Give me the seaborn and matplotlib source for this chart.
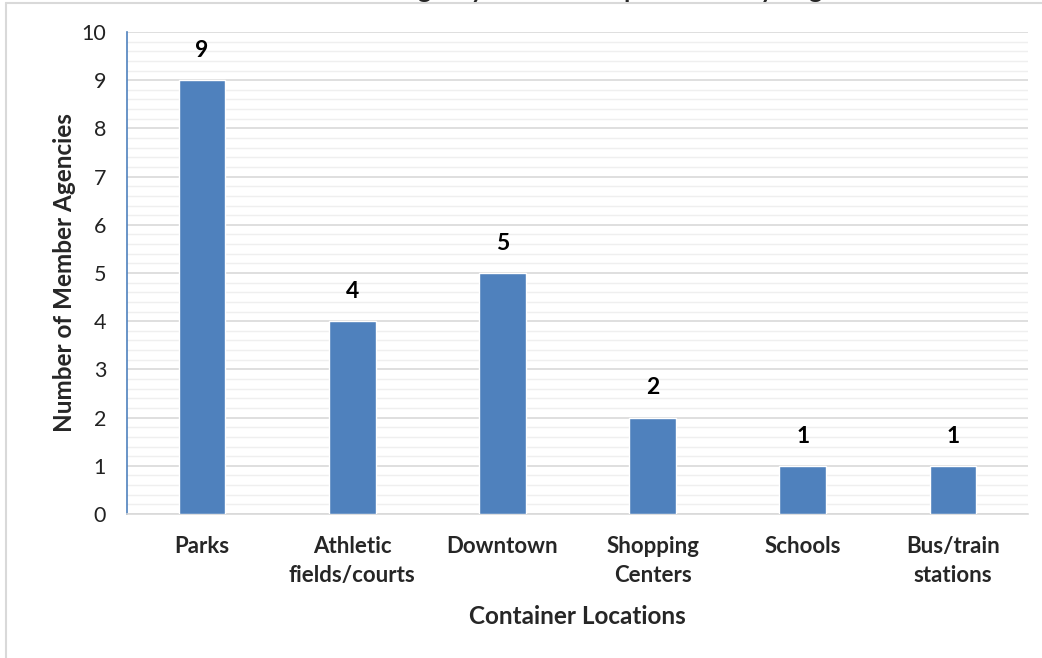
import matplotlib
matplotlib.use("Agg")
import matplotlib.pyplot as plt
import seaborn as sns
import pandas as pd
from matplotlib.lines import Line2D
from matplotlib.ticker import MultipleLocator

categories = ["Parks", "Athletic\nfields/courts", "Downtown", "Shopping\nCenters", "Schools", "Bus/train\nstations"]
values = [9, 4, 5, 2, 1, 1]
title = "Member Agency Containers: placement by Region"
xlabel = "Container Locations"
ylabel = "Number of Member Agencies"

sns.set_theme(style="white")
plt.rcParams["font.family"] = ["Lato", "DejaVu Sans"]

df = pd.DataFrame({"loc": categories, "n": values})

fig = plt.figure(figsize=(10.42, 6.58), dpi=100)
ax = fig.add_axes([127/1042, 1-514/658, (1028-127)/1042, (514-32)/658])

bar_color = "#4F81BD"
sns.barplot(data=df, x="loc", y="n", color=bar_color, saturation=1, width=0.31, ax=ax, zorder=3)

ax.set_ylim(0, 10)
ax.set_xlim(-0.5, len(categories) - 0.5)
ax.yaxis.set_major_locator(MultipleLocator(1))
ax.yaxis.set_minor_locator(MultipleLocator(0.2))
ax.grid(which="major", axis="y", color="#D9D9D9", linewidth=1.2, zorder=0)
ax.grid(which="minor", axis="y", color="#EFEFEF", linewidth=1.0, zorder=0)
ax.set_axisbelow(True)

for s in ["top", "right"]:
    ax.spines[s].set_visible(False)
ax.spines["left"].set_color("#4F81BD")
ax.spines["left"].set_linewidth(1.2)
ax.spines["bottom"].set_color("#D9D9D9")
ax.spines["bottom"].set_linewidth(1.2)

ax.tick_params(axis="y", which="both", length=0, pad=15, labelsize=15.5, labelcolor="#222222")
ax.tick_params(axis="x", length=0, pad=16, labelsize=16)
for lbl in ax.get_xticklabels():
    lbl.set_fontweight("bold")
    lbl.set_linespacing(1.45)

for i, v in enumerate(values):
    ax.text(i, v + 0.4, str(v), ha="center", va="bottom", fontsize=16.5, fontweight="bold", color="black")

ax.set_xlabel(xlabel, fontsize=17.5, fontweight="bold", labelpad=14)
ax.set_ylabel(ylabel, fontsize=17.5, fontweight="bold", labelpad=4)

fig.text(0.555, 1 + 2/658, title, ha="center", va="baseline", fontsize=18, fontweight="bold")

fig.add_artist(Line2D([6/1042, 6/1042], [0, 1 - 3/658], transform=fig.transFigure, color="#D9D9D9", linewidth=1.5))
fig.add_artist(Line2D([6/1042, 1], [1 - 3/658, 1 - 3/658], transform=fig.transFigure, color="#D9D9D9", linewidth=1.5))

fig.savefig("out.png", dpi=100)
